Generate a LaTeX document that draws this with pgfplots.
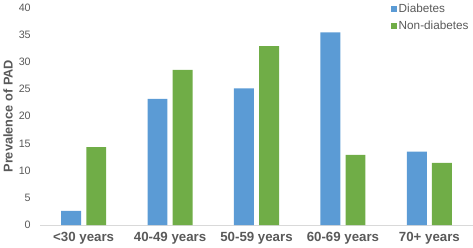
\documentclass[border=0pt]{standalone}
\usepackage{pgfplots}
\pgfplotsset{compat=1.18}
\usepackage{fontspec}
\setmainfont{Liberation Sans}
\definecolor{dblue}{HTML}{5B9BD5}
\definecolor{ngreen}{HTML}{70AD47}
\definecolor{txt}{HTML}{595959}
\definecolor{axl}{HTML}{D9D9D9}
\begin{document}
\begin{tikzpicture}
\begin{axis}[
  scale only axis,
  width=423pt, height=213pt,
  ybar, bar width=19.5pt,
  xmin=-0.5, xmax=4.5, ymin=0, ymax=40,
  xtick=data,
  xticklabels={{<30 years},{40-49 years},{50-59 years},{60-69 years},{70+ years}},
  ytick={0,5,...,40},
  axis x line*=bottom, axis y line*=left,
  x axis line style={axl, thick, -},
  y axis line style={draw=none},
  xtick style={draw=none}, ytick style={draw=none},
  tick label style={txt, font=\fontsize{10.5}{12}\selectfont},
  xticklabel style={font=\fontsize{13}{15}\selectfont\bfseries, txt, yshift=1pt},
  yticklabel style={xshift=-6pt},
  /pgf/number format/assume math mode=true,
  ylabel={Prevalence of PAD},
  ylabel style={txt, font=\fontsize{12.5}{14}\selectfont\bfseries, yshift=-1pt},
  legend style={draw=none, fill=none, at={(rel axis cs:0.996,1.035)}, anchor=north east,
    font=\fontsize{11.5}{13}\selectfont, text=txt, row sep=3pt,
    legend cell align=left, inner xsep=0pt},
  legend image code/.code={\fill[#1] (0pt,-3pt) rectangle (6pt,3pt);},
  enlarge x limits=false,
]
\addplot[fill=dblue, draw=none, bar shift=-12.3pt] coordinates {(0,2.6) (1,23.2) (2,25.1) (3,35.4) (4,13.5)};
\addplot[fill=ngreen, draw=none, bar shift=12.3pt] coordinates {(0,14.3) (1,28.5) (2,32.9) (3,12.9) (4,11.4)};
\legend{Diabetes,Non-diabetes}
\end{axis}
\end{tikzpicture}
\end{document}
